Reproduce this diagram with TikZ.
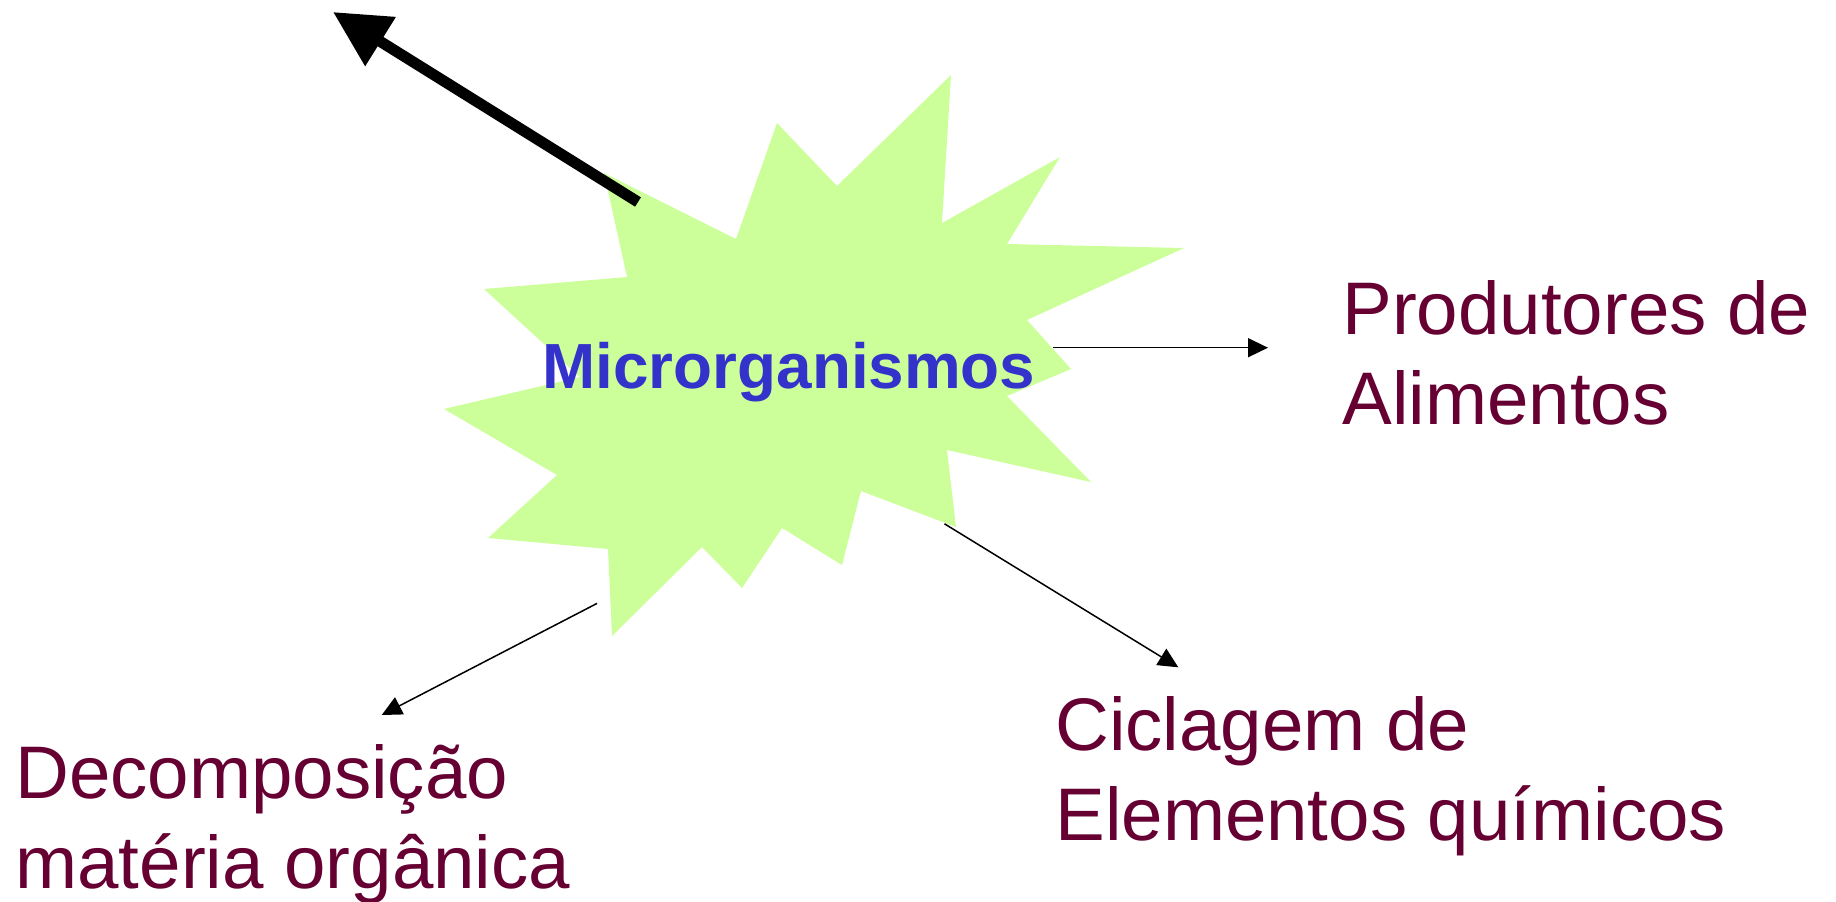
\documentclass[tikz,border=0pt]{standalone}
\usepackage{fontspec}
\setmainfont{Liberation Sans}
\usetikzlibrary{arrows.meta}
\definecolor{starfill}{HTML}{CCFF99}
\definecolor{microblue}{HTML}{3333CC}
\definecolor{vinho}{HTML}{660033}

\begin{document}
\begin{tikzpicture}[x=0.5pt,y=-0.5pt]
\tikzset{rotulo/.style={text=vinho, inner sep=0pt, anchor=base west, align=left,
           font=\fontsize{37.25pt}{45pt}\selectfont},
         fina/.style={line width=0.75pt, -{Triangle[length=10pt,width=9.5pt]}},
         grossa/.style={line width=5.5pt, -{Triangle[length=28pt,width=27.5pt]}}}
\useasboundingbox (0,0) rectangle (1836,901);
% explosao
\fill[starfill] (604,173) -- (736,239) -- (777,123) -- (837,186) -- (951,75)
  -- (942,223) -- (1060,157) -- (1007,244) -- (1184,248) -- (1027,320)
  -- (1071,369) -- (1007,396) -- (1091,482) -- (947,450) -- (956,527)
  -- (861,491) -- (842,565) -- (782,528) -- (742,588) -- (702,547)
  -- (612,636) -- (608,549) -- (488,538) -- (557,475) -- (444,409)
  -- (580,377) -- (484,289) -- (627,277) -- cycle;
\node[text=microblue, inner sep=0pt, anchor=base,
      font=\fontsize{31.9pt}{38pt}\selectfont\bfseries] (micro) at (789,388) {Microrganismos};
% base = ultima linha
\node[rotulo] (produtores) at (1342,424) {Produtores de\\Alimentos};
\node[rotulo] (ciclagem) at (1055,840) {Ciclagem de\\Elementos químicos};
\node[rotulo] (decomp) at (15,888.3) {Decomposição\\matéria orgânica};
% pontas das setas
\coordinate (topo) at (333,12);
\coordinate (grossaIni) at (638,202);
\coordinate (dirIni) at (1053,347.7);
\coordinate (dirFim) at (1268,347.7);
\coordinate (cicIni) at (944.5,523.8);
\coordinate (cicFim) at (1178.3,667.3);
\coordinate (decIni) at (597,603.4);
\coordinate (decFim) at (381.7,715);
\draw[grossa] (grossaIni) -- (topo);
\draw[fina] (dirIni) -- (dirFim);
\draw[fina] (cicIni) -- (cicFim);
\draw[fina] (decIni) -- (decFim);
\end{tikzpicture}
\end{document}
